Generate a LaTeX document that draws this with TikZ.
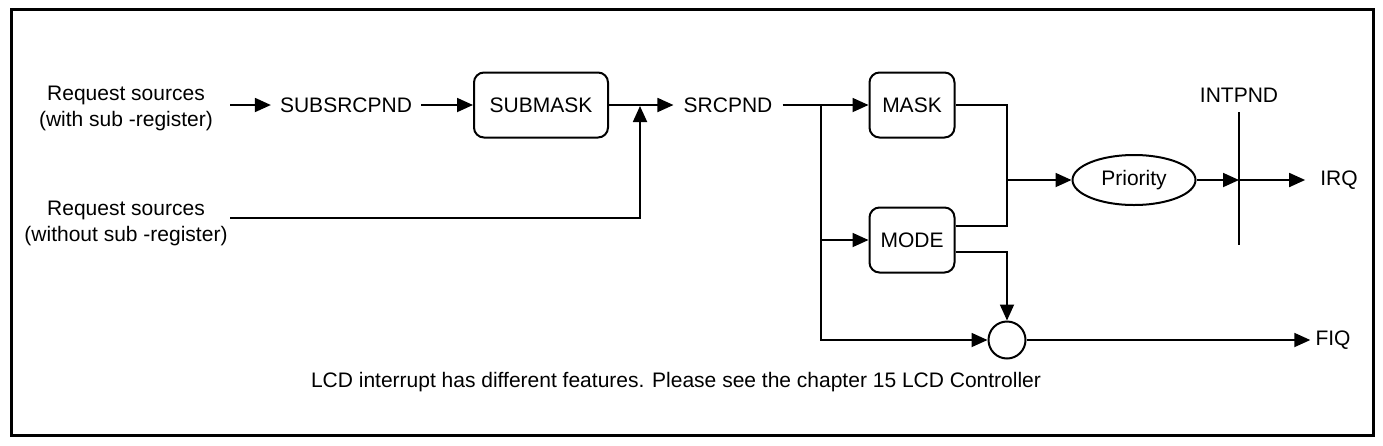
\documentclass[tikz,border=0pt]{standalone}
\usepackage{fontspec}
\setmainfont{Liberation Sans}
\usetikzlibrary{arrows.meta,shapes.geometric}
\begin{document}
\begin{tikzpicture}[x=1pt,y=-1pt,
  every node/.style={font=\fontsize{21}{26}\selectfont},
  wire/.style={line width=1.8pt},
  arr/.style={wire,-{Triangle[length=16pt,width=14pt]}},
  lbl/.style={inner sep=0pt},
  blk/.style={draw,line width=2pt,rounded corners=10pt,minimum width=#1,minimum height=65pt,inner sep=0pt},
]
\useasboundingbox (0,0) rectangle (1383,445);
\draw[line width=3.5pt] (11.5,9.5) rectangle (1373.5,435.5);

\node[lbl,align=center,minimum width=208pt] (req1) at (126,108) {Request sources\\(with sub -register)};
\node[lbl,align=center,minimum width=208pt] (req2) at (126,223) {Request sources\\(without sub -register)};
\node[lbl,inner xsep=9pt] (subsrc) at (346,105) {SUBSRCPND};
\node[blk=134pt] (submask) at (541,105) {SUBMASK};
\coordinate (join) at (640,105);
\node[lbl,inner xsep=10pt] (srcpnd) at (728,105) {SRCPND};
\coordinate (br) at (821,105);
\node[blk=85pt] (mask) at (912,105) {MASK};
\node[blk=85pt] (mode) at (912,240) {MODE};
\coordinate (m) at (1007,180);
\node[draw,ellipse,line width=2pt,minimum width=123pt,minimum height=50pt,inner sep=0pt] (prio) at (1134,180) {Priority};
\coordinate (ip) at (1239,180);
\coordinate (ipt) at (1239,112);
\coordinate (ipb) at (1239,245);
\node[lbl] (intpnd) at (1239,95) {INTPND};
\node[lbl,inner xsep=15pt] (irq) at (1339,180) {IRQ};
\node[draw,circle,line width=2pt,minimum size=37pt,inner sep=0pt] (circ) at (1007,340) {};
\node[lbl,inner xsep=5pt] (fiq) at (1333,340) {FIQ};
\node[lbl] (note) at (676,382) {LCD interrupt has different features. Please see the chapter 15 LCD Controller};

\draw[arr] (req1.east |- subsrc.west) -- (subsrc.west);
\draw[arr] (subsrc.east) -- (submask.west);
\draw[wire] (submask.east) -- (join);
\draw[arr] (join) -- (srcpnd.west);
\draw[arr] ([yshift=5pt]req2.east) -| ([yshift=-1pt]join);
\draw[arr] (srcpnd.east) -- (mask.west);
\draw[arr] (br) |- (mode.west);
\draw[arr] (br) |- (circ.west);
\draw[wire] (mask.east) -| (m);
\draw[wire] ([yshift=14pt]mode.east) -| (m);
\draw[arr] (m) -- (prio.west);
\draw[arr] (prio.east) -- (ip);
\draw[wire] (ipt) -- (ipb);
\draw[arr] (ip) -- (irq.west);
\draw[arr] ([yshift=-12pt]mode.east) -| (circ.north);
\draw[arr] (circ.east) -- (fiq.west);
\end{tikzpicture}
\end{document}
